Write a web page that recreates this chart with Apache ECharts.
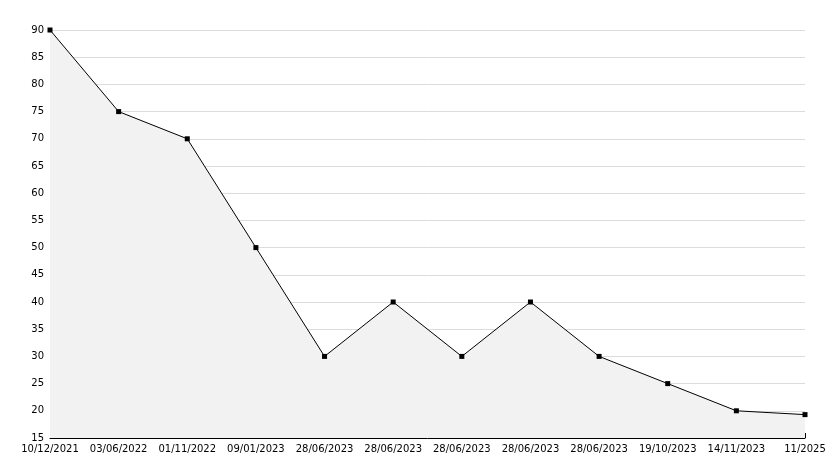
<!DOCTYPE html>
<html>
<head>
<meta charset="UTF-8" />
<script src="https://cdn.jsdelivr.net/npm/echarts@6/dist/echarts.min.js"></script>
<style>
  html, body { margin: 0; padding: 0; background: #fff; }
  #main { width: 834px; height: 468px; }
</style>
</head>
<body>
<div id="main"></div>
<script>
  const dates = ['10/12/2021', '03/06/2022', '01/11/2022', '09/01/2023', '28/06/2023',
    '28/06/2023', '28/06/2023', '28/06/2023', '28/06/2023', '19/10/2023', '14/11/2023', '11/2025']
  const values = [90, 75, 70, 50, 30, 40, 30, 40, 30, 25, 20, 19.3]

  const chart = echarts.init(document.getElementById('main'))
  chart.setOption({
    animation: false,
    grid: { left: 50, right: 29, top: 30, bottom: 30 },
    xAxis: {
      type: 'category',
      data: dates,
      boundaryGap: false,
      axisLine: { lineStyle: { color: '#000' } },
      axisTick: { inside: true, length: 5, lineStyle: { color: '#000' } },
      axisLabel: { color: '#000', fontFamily: 'DejaVu Sans', fontSize: 10, margin: 6, interval: 0 },
      splitLine: { show: false }
    },
    yAxis: {
      type: 'value',
      min: 15, max: 90, interval: 5,
      axisLine: { show: true, lineStyle: { color: '#000' } },
      axisTick: { inside: true, length: 5, lineStyle: { color: '#000' } },
      minorTick: { show: true, splitNumber: 5, length: 3, lineStyle: { color: '#000' } },
      axisLabel: { color: '#000', fontFamily: 'DejaVu Sans', fontSize: 10, margin: 6 },
      splitLine: { lineStyle: { color: '#dcdcdc' } }
    },
    series: [{
      type: 'line',
      data: values,
      symbol: 'rect',
      symbolSize: 5,
      itemStyle: { color: '#000' },
      lineStyle: { color: '#000', width: 1 },
      areaStyle: { color: '#f2f2f2', opacity: 1 }
    }]
  })
</script>
</body>
</html>
